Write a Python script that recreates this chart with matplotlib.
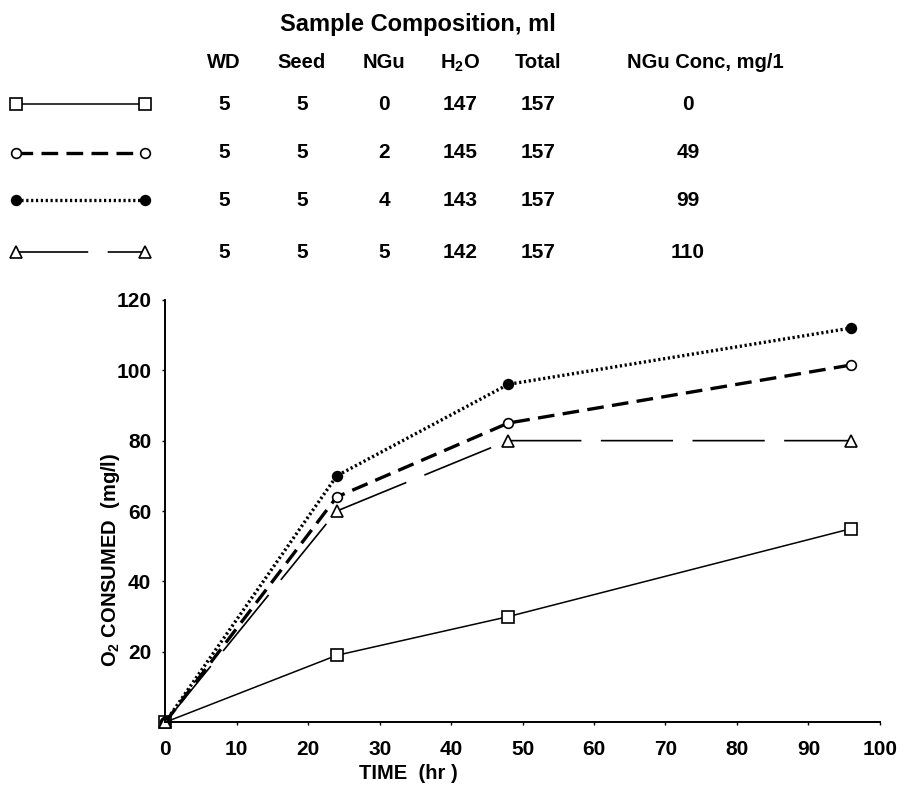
"""Oxygen uptake versus time for NGu-spiked samples, with sample composition table."""

import matplotlib

matplotlib.use("Agg")
import matplotlib.pyplot as plt

TIME_HR = [0, 24, 48, 96]
O2_NGU_0 = [0, 19, 30, 55]
O2_NGU_49 = [0, 64, 85, 101.5]
O2_NGU_99 = [0, 70, 96, 112]
O2_NGU_110 = [0, 60, 80, 80]

TABLE_COLUMNS = ["WD", "Seed", "NGu", r"$\mathbf{H_2O}$", "Total", "NGu Conc, mg/1"]
WD_ML = [5, 5, 5, 5]
SEED_ML = [5, 5, 5, 5]
NGU_ML = [0, 2, 4, 5]
WATER_ML = [147, 145, 143, 142]
TOTAL_ML = [157, 157, 157, 157]
NGU_CONC = [0, 49, 99, 110]

X_TICKS = list(range(0, 101, 10))
Y_TICKS = list(range(20, 121, 20))

plt.rcParams["font.family"] = ["Liberation Sans", "DejaVu Sans"]
plt.rcParams["font.weight"] = "bold"
plt.rcParams["axes.labelweight"] = "bold"
plt.rcParams["mathtext.fontset"] = "custom"
plt.rcParams["mathtext.rm"] = "Liberation Sans"
plt.rcParams["mathtext.bf"] = "Liberation Sans:bold"
plt.rcParams["lines.scale_dashes"] = False

# one style per series: (marker, facecolor, marker size, line width, dashes)
STYLES = [
    ("s", "white", 9, 1.1, None),
    ("o", "white", 7, 2.4, (12, 6)),
    ("o", "black", 7, 2.4, (1.6, 1.9)),
    ("^", "white", 9, 1.2, (52, 14)),
]


def draw_series(ax, x, y, style, **kw):
    marker, face, size, lw, dashes = style
    line, = ax.plot(x, y, color="black", lw=lw, marker=marker, ms=size,
                    mfc=face, mec="black", mew=1.2, **kw)
    if dashes is not None:
        line.set_dashes(dashes)
    return line


figure = plt.figure(figsize=(9.08, 7.85), dpi=100)
ax = figure.add_axes([0.182, 0.080, 0.787, 0.538])
series = [O2_NGU_0, O2_NGU_49, O2_NGU_99, O2_NGU_110]
for values, style in zip(series, STYLES):
    draw_series(ax, TIME_HR, values, style, clip_on=False)

ax.set_xlim(0, 100)
ax.set_ylim(0, 120)
ax.set_xticks(X_TICKS)
ax.set_yticks(Y_TICKS)
ax.spines[["top", "right"]].set_visible(False)
ax.spines[["left", "bottom"]].set_linewidth(1.4)
ax.tick_params(axis="both", length=2, width=1, labelsize=15)
ax.tick_params(axis="x", pad=11)
ax.tick_params(axis="y", pad=8)
ax.set_xlabel("TIME  (hr )", fontsize=14.5, va="center")
ax.xaxis.set_label_coords(0.34, -0.121)
figure.text(0.122, 0.287, r"$\mathbf{O_2}$ CONSUMED  (mg/l)", rotation=90,
            ha="center", va="center", fontsize=14.5)

# header table drawn in pixel space on an overlay axes
top = figure.add_axes([0, 0, 1, 1], zorder=-1)
top.set_xlim(0, 908)
top.set_ylim(785, 0)
top.axis("off")
top.text(418, 24, "Sample Composition, ml", ha="center", va="center", fontsize=17)
column_x = [224, 302, 384, 460, 538, 705]
for x, name in zip(column_x, TABLE_COLUMNS):
    top.text(x, 63, name, ha="center", va="center", fontsize=14.5)
row_y = [104, 153, 200, 252]
columns = [WD_ML, SEED_ML, NGU_ML, WATER_ML, TOTAL_ML, NGU_CONC]
for i, y in enumerate(row_y):
    for x, col in zip(column_x, columns):
        top.text(x if col is not NGU_CONC else 688, y, str(col[i]), ha="center",
                 va="center", fontsize=15)
    draw_series(top, [16, 145], [y, y], STYLES[i], clip_on=False)

figure.savefig("out.png", dpi=100)
plt.close(figure)
